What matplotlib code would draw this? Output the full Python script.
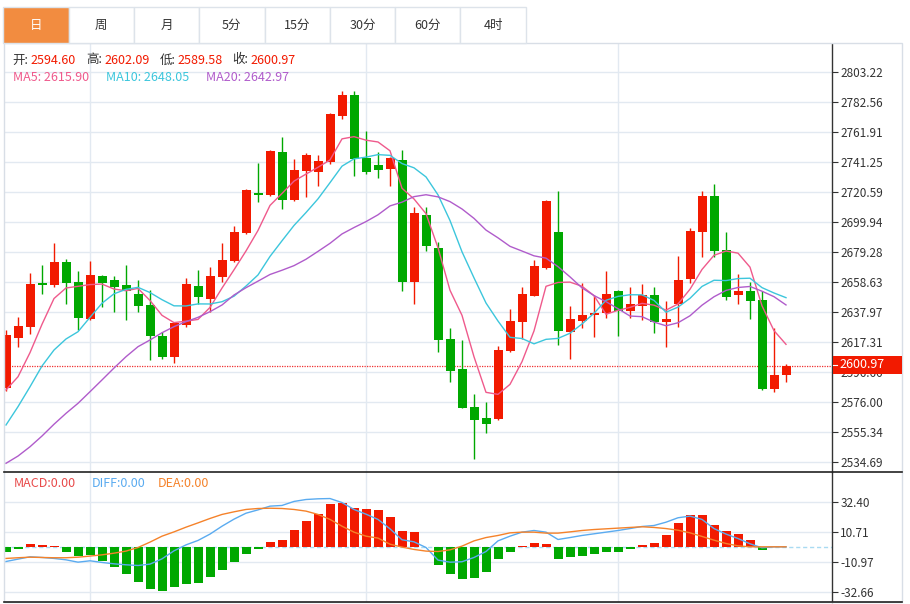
import numpy as np
import pandas as pd
import matplotlib
matplotlib.use('Agg')
import matplotlib.pyplot as plt
from matplotlib.patches import Rectangle
from matplotlib.lines import Line2D

plt.rcParams['font.family'] = ['Noto Sans CJK SC', 'DejaVu Sans']

# ---- 데이터 ----
open_ = [2585.4, 2619.9, 2627.9, 2658.2, 2656.4, 2672.4, 2658.8, 2633.0, 2662.8, 2660.0,
         2656.6, 2650.6, 2642.8, 2621.7, 2607.2, 2629.0, 2655.9, 2646.9, 2661.9, 2673.3,
         2692.2, 2720.1, 2718.5, 2748.1, 2715.1, 2735.1, 2734.6, 2741.5, 2773.1, 2787.4,
         2743.8, 2739.0, 2736.2, 2742.6, 2658.4, 2704.8, 2681.8, 2619.4, 2598.5, 2572.8,
         2565.2, 2564.1, 2611.1, 2631.3, 2649.2, 2668.3, 2693.1, 2624.4, 2632.0, 2635.9,
         2637.1, 2652.2, 2638.9, 2642.3, 2649.7, 2631.3, 2643.3, 2660.7, 2692.9, 2717.8,
         2680.7, 2649.7, 2652.6, 2646.2, 2585.0, 2594.60]
high = [2625.6, 2634.7, 2664.6, 2670.3, 2685.7, 2674.3, 2666.2, 2673.1, 2663.5, 2662.8,
        2670.3, 2660.0, 2653.1, 2624.0, 2631.3, 2661.6, 2666.9, 2669.0, 2685.5, 2697.0,
        2722.9, 2740.6, 2749.5, 2758.7, 2743.3, 2747.7, 2745.9, 2775.2, 2790.1, 2790.1,
        2762.4, 2748.1, 2744.5, 2749.5, 2710.3, 2710.3, 2686.0, 2627.2, 2618.7, 2581.5,
        2576.0, 2614.8, 2639.8, 2655.2, 2673.6, 2715.3, 2721.1, 2642.1, 2658.2, 2649.7,
        2666.4, 2653.1, 2655.4, 2657.3, 2655.4, 2645.6, 2676.5, 2695.6, 2721.3, 2726.1,
        2693.1, 2664.1, 2658.8, 2652.4, 2626.8, 2602.09]
low = [2583.8, 2614.1, 2622.8, 2650.2, 2655.4, 2643.3, 2625.6, 2632.5, 2641.2, 2637.8,
       2632.3, 2637.8, 2604.9, 2605.4, 2602.7, 2627.9, 2643.3, 2638.2, 2658.8, 2672.6,
       2691.7, 2713.9, 2718.1, 2708.7, 2714.6, 2717.2, 2724.7, 2740.1, 2771.1, 2731.6,
       2733.0, 2730.2, 2724.7, 2652.6, 2643.3, 2680.2, 2610.4, 2589.6, 2571.6, 2537.0,
       2554.5, 2563.6, 2610.6, 2619.2, 2649.0, 2667.8, 2615.3, 2605.4, 2627.2, 2621.0,
       2634.0, 2621.7, 2634.0, 2632.5, 2623.7, 2613.7, 2627.9, 2658.2, 2676.1, 2675.6,
       2646.2, 2643.5, 2633.2, 2584.3, 2583.1, 2589.58]
close = [2621.9, 2628.3, 2657.3, 2656.4, 2672.4, 2658.2, 2634.0, 2663.3, 2658.2, 2655.2,
         2652.4, 2642.1, 2621.5, 2607.2, 2630.2, 2657.3, 2648.1, 2662.8, 2673.8, 2693.1,
         2722.2, 2718.7, 2749.0, 2714.9, 2735.7, 2746.3, 2742.2, 2774.3, 2787.4, 2743.3,
         2734.2, 2736.0, 2744.0, 2658.4, 2706.4, 2683.6, 2618.7, 2597.6, 2572.1, 2563.8,
         2561.1, 2611.8, 2632.0, 2650.2, 2669.7, 2714.6, 2625.1, 2633.2, 2635.9, 2637.5,
         2650.4, 2638.7, 2643.3, 2649.7, 2631.3, 2633.2, 2660.0, 2694.0, 2717.8, 2680.0,
         2648.1, 2652.6, 2645.8, 2584.8, 2594.4, 2600.97]

# 화면 왼쪽 밖 데이터 때문에 앞부분 MA 는 그림에서 직접 읽음
ma5_head = [2584.3, 2593.4, 2610.0, 2629.5]
ma10_head = [2560.2, 2572.8, 2586.5, 2600.8, 2611.8, 2619.4, 2624.4, 2634.3, 2644.0]
ma20_head = [2533.8, 2538.8, 2545.2, 2552.6, 2560.7, 2568.2, 2575.1, 2583.1, 2591.2, 2599.4,
             2607.2, 2614.1, 2618.7, 2623.7, 2627.9, 2631.3, 2634.3, 2638.2, 2642.8]

macd_hist = [-4.1, -1.4, 1.7, 1.0, 0.5, -3.6, -6.7, -6.0, -10.1, -14.5,
             -19.8, -25.5, -30.6, -31.8, -28.9, -26.7, -26.0, -21.7, -17.1, -11.1,
             -5.1, -1.7, 3.4, 4.6, 12.5, 18.5, 23.6, 30.6, 31.8, 27.7,
             27.2, 26.5, 21.9, 11.3, 10.8, 0.0, -13.0, -19.5, -23.4, -22.6,
             -18.1, -8.7, -3.6, 0.5, 2.6, 1.9, -8.7, -7.2, -6.5, -5.3,
             -3.6, -3.6, -1.4, 1.0, 2.6, 8.9, 16.9, 22.9, 22.9, 16.1,
             11.3, 9.2, 4.6, -2.2, 0.0, 0.0]
diff = [-10.6, -8.9, -7.2, -7.7, -8.4, -9.4, -11.1, -10.1, -11.3, -12.3,
        -13.0, -13.5, -12.5, -8.7, -2.9, 1.4, 4.6, 9.2, 14.9, 20.0,
        24.3, 26.7, 29.4, 29.9, 32.8, 34.2, 34.7, 34.9, 32.0, 27.0,
        23.6, 19.8, 13.0, 5.1, 3.6, -0.5, -9.6, -11.1, -10.8, -7.7,
        -3.4, 4.3, 7.7, 10.6, 11.8, 10.6, 5.3, 6.7, 8.2, 9.4,
        10.6, 11.8, 13.2, 14.7, 15.4, 17.8, 21.0, 22.2, 19.8, 13.2,
        9.2, 6.0, 2.2, -0.7, 0.0, 0.0]
dea = [-8.4, -7.9, -7.5, -7.7, -7.9, -7.9, -7.5, -6.7, -5.8, -4.6,
       -3.1, -0.5, 3.4, 7.7, 10.8, 14.2, 17.3, 20.5, 23.4, 25.3,
       27.0, 27.7, 27.9, 27.7, 27.0, 25.8, 23.4, 19.8, 14.9, 10.6,
       7.7, 6.3, 1.9, -0.2, -1.9, -3.1, -3.4, -2.2, 0.5, 4.3,
       6.7, 8.2, 10.1, 10.6, 10.6, 9.9, 9.9, 10.8, 11.8, 12.5,
       13.0, 13.5, 14.0, 14.5, 14.0, 13.2, 12.0, 10.1, 7.5, 4.8,
       2.4, 0.7, 0.0, 0.0, 0.0, 0.0]

price_ticks = [2803.22, 2782.56, 2761.91, 2741.25, 2720.59, 2699.94, 2679.28, 2658.63,
               2637.97, 2617.31, 2596.66, 2576.00, 2555.34, 2534.69]
macd_ticks = [32.40, 10.71, -10.97, -32.66]
tabs = ['日', '周', '月', '5分', '15分', '30分', '60分', '4时']
last_price = 2600.97

# ---- 색상 ----
RED = '#f21a00'
GREEN = '#00a800'
GRID = '#e2e9f1'
MA5_C, MA10_C, MA20_C = '#ef5a8c', '#3cc6dc', '#b05ccb'
DIFF_C, DEA_C = '#5aabf0', '#f5822a'
TXT = '#333333'

df = pd.DataFrame({'open': open_, 'high': high, 'low': low, 'close': close})
df['ma5'] = df['close'].rolling(5).mean()
df['ma10'] = df['close'].rolling(10).mean()
df['ma20'] = df['close'].rolling(20).mean()
df.loc[:3, 'ma5'] = ma5_head
df.loc[:8, 'ma10'] = ma10_head
df.loc[:18, 'ma20'] = ma20_head
x = np.arange(len(df))

W, H = 910, 604
fig = plt.figure(figsize=(W / 100, H / 100), dpi=100)


def fx(px):
    return px / W


def fy(py):
    return 1 - py / H


L, R = 3.5, 832
ax1 = fig.add_axes([fx(L), fy(472), fx(R) - fx(L), fy(44) - fy(472)])
ax2 = fig.add_axes([fx(L), fy(602), fx(R) - fx(L), fy(472) - fy(602)])

xlim = ((L - 6) / 12, (R - 6) / 12)

# --- 캔들 ---
up = df['close'] >= df['open']
cols = np.where(up, RED, GREEN)
ax1.vlines(x, df['low'], df['high'], colors=cols, lw=1.0, zorder=3)
body_bot = np.minimum(df['open'], df['close'])
body_h = np.maximum((df['close'] - df['open']).abs(), 0.6)
ax1.bar(x, body_h, bottom=body_bot, width=0.75, color=cols, linewidth=0, zorder=4)

ax1.plot(x, df['ma5'], color=MA5_C, lw=1.0, zorder=5)
ax1.plot(x, df['ma10'], color=MA10_C, lw=1.0, zorder=5)
ax1.plot(x, df['ma20'], color=MA20_C, lw=1.0, zorder=5)
ax1.axhline(last_price, color='#f03030', lw=0.9, ls=(0, (1, 1)), zorder=2)

ax1.set_xlim(*xlim)
ax1.set_ylim(2852.79 - 0.6885 * 472, 2852.79 - 0.6885 * 44)
ax1.set_yticks(price_ticks)
ax1.set_yticklabels([f'{t:.2f}' for t in price_ticks])

# --- MACD ---
mcols = np.where(np.array(macd_hist) >= 0, RED, GREEN)
ax2.bar(x, macd_hist, width=0.75, color=mcols, linewidth=0, zorder=3)
ax2.axhline(0, color='#a9dbf2', lw=1.0, ls=(0, (3, 2)), zorder=2)
ax2.plot(x, diff, color=DIFF_C, lw=1.0, zorder=4)
ax2.plot(x, dea, color=DEA_C, lw=1.0, zorder=4)
ax2.set_xlim(*xlim)
ax2.set_ylim(10.71 - (602 - 532) * 0.72283, 10.71 + (532 - 472) * 0.72283)
ax2.set_yticks(macd_ticks)
ax2.set_yticklabels([f'{t:.2f}' for t in macd_ticks])

for ax in (ax1, ax2):
    ax.yaxis.tick_right()
    ax.tick_params(axis='y', length=4, width=0.8, color=TXT, labelcolor=TXT,
                   labelsize=8.5, pad=2)
    ax.set_xticks([])
    ax.grid(axis='y', color=GRID, lw=1.0, zorder=0)
    for gx in (7, 30, 51):
        ax.axvline(gx, color=GRID, lw=1.0, zorder=0)
    ax.set_axisbelow(True)
    for s in ('top', 'bottom', 'left'):
        ax.spines[s].set_visible(False)
    ax.spines['right'].set_color(TXT)
    ax.spines['right'].set_linewidth(1.0)
    ax.set_facecolor('none')

# --- 테두리, 구분선 ---
fig.add_artist(Rectangle((fx(3.5), fy(602)), fx(902) - fx(3.5), fy(43) - fy(602),
                         transform=fig.transFigure, fill=False, ec='#d8dee6', lw=1.0))
fig.add_artist(Line2D([fx(3.5), fx(902)], [fy(472), fy(472)], transform=fig.transFigure,
                      color='#222222', lw=1.2))
fig.add_artist(Line2D([fx(3.5), fx(902)], [fy(602), fy(602)], transform=fig.transFigure,
                      color='#222222', lw=1.2))

# --- 탭 ---
tab_w = 65.3
for i, t in enumerate(tabs):
    x0 = 3.3 + i * tab_w
    active = i == 0
    fig.add_artist(Rectangle((fx(x0), fy(43.3)), fx(tab_w), fy(7.3) - fy(43.3),
                             transform=fig.transFigure,
                             fc='#f28c40' if active else 'white', ec='#dde3ea', lw=1.0))
    fig.text(fx(x0 + tab_w / 2), fy(25.5), t, ha='center', va='center', fontsize=9,
             color='white' if active else TXT)

# --- 헤더 정보 ---
row1 = [('开:', 12.7, 30, open_[-1]), ('高:', 86, 104, high[-1]),
        ('低:', 159.3, 177.3, low[-1]), ('收:', 232.7, 250.7, close[-1])]
for lab, lx, vx, v in row1:
    fig.text(fx(lx), fy(60), lab, ha='left', va='center', fontsize=9, color=TXT)
    fig.text(fx(vx), fy(60), f'{v:.2f}', ha='left', va='center', fontsize=9, color=RED)

row2 = [('MA5', 12.7, '2615.90', MA5_C), ('MA10', 106, '2648.05', MA10_C),
        ('MA20', 206, '2642.97', MA20_C)]
for lab, lx, val, c in row2:
    fig.text(fx(lx), fy(77.5), f'{lab}: {val}', ha='left', va='center', fontsize=9, color=c)

row3 = [('MACD:0.00', 14, '#e84a4a'), ('DIFF:0.00', 92, DIFF_C), ('DEA:0.00', 158, DEA_C)]
for lab, lx, c in row3:
    fig.text(fx(lx), fy(483.5), lab, ha='left', va='center', fontsize=9, color=c)

# --- 현재가 라벨 ---
fig.add_artist(Rectangle((fx(833), fy(374)), fx(902) - fx(833), fy(356) - fy(374),
                         transform=fig.transFigure, fc=RED, ec='none', zorder=10))
fig.add_artist(Line2D([fx(833), fx(837)], [fy(365), fy(365)], transform=fig.transFigure,
                      color='white', lw=0.8, zorder=11))
fig.text(fx(839.5), fy(365), f'{last_price:.2f}', ha='left', va='center', fontsize=9,
         color='white', zorder=11)

fig.savefig('out.png', dpi=100)
